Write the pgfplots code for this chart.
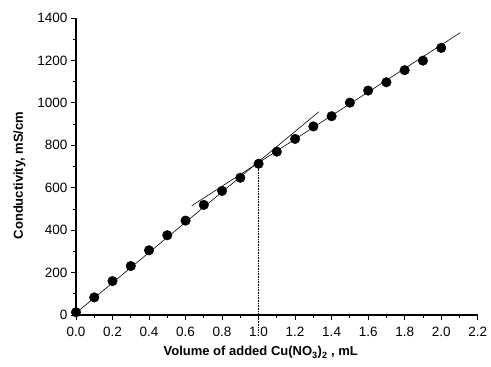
\documentclass[border=0pt]{standalone}
\usepackage{pgfplots}
\pgfplotsset{compat=1.18}
\usepackage{fontspec}
\setmainfont{Liberation Sans}
\begin{document}
\begin{tikzpicture}[x=1pt,y=1pt]
\path[use as bounding box] (-76,-52) rectangle (415,315);
\begin{axis}[
  at={(0,0)}, anchor=south west,
  scale only axis, width=401.7pt, height=297pt,
  xmin=0, xmax=2.2, ymin=0, ymax=1400,
  axis x line*=bottom, axis y line*=left,
  axis line style={line width=1.1pt, -},
  xtick={0,0.2,...,2.2}, ytick={0,200,...,1400},
  minor x tick num=1, minor y tick num=1,
  tick align=outside,
  major tick length=5pt, minor tick length=3pt,
  tick style={line width=0.8pt, black},
  xticklabel style={yshift=-4pt, /pgf/number format/.cd, fixed, fixed zerofill, precision=1},
  yticklabel style={/pgf/number format/.cd, fixed, 1000 sep={}},
  /pgf/number format/assume math mode=true,
  ticklabel style={font=\fontsize{13.5}{15}\selectfont},
  clip=false,
  xlabel={\textbf{Volume of added Cu(NO\textsubscript{3})\textsubscript{2} , mL}},
  ylabel={\textbf{Conductivity, mS/cm}},
  label style={font=\fontsize{13}{15}\selectfont},
  xlabel style={at={(axis description cs:0.46,0)}, anchor=north, yshift=-28pt},
  ylabel style={at={(axis description cs:0,0.47)}, anchor=south, yshift=47pt},
]
\addplot[black, line width=0.6pt] coordinates {(-0.02,-5) (1.33,958)};
\addplot[black, line width=0.6pt] coordinates {(0.634,515) (2.105,1331)};
\addplot[black, densely dotted, line width=0.6pt] coordinates {(1.0,713) (1.0,-80)};
\addplot[only marks, mark=*, mark size=4.8pt, black] coordinates {
(0.0,13) (0.1,83) (0.2,160) (0.3,231) (0.4,305) (0.5,376) (0.6,445)
(0.7,519) (0.8,585) (0.9,647) (1.0,713) (1.1,770) (1.2,830) (1.3,889)
(1.4,937) (1.5,1001) (1.6,1058) (1.7,1097) (1.8,1154) (1.9,1199) (2.0,1259)};
\end{axis}
\end{tikzpicture}
\end{document}
